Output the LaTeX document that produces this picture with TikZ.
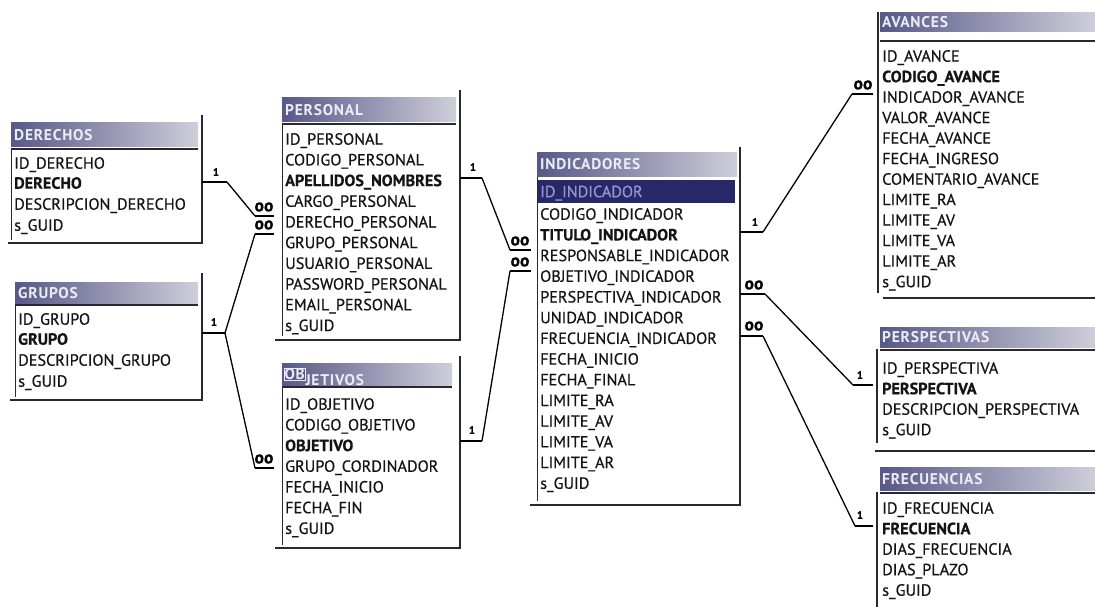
\documentclass[tikz,border=0pt]{standalone}
\usepackage{fontspec}
\setmainfont[FakeBold=0.6]{PT Sans}
\newfontfamily\plainfont[FakeBold=0.6]{PT Sans}
\newfontfamily\hdrfont[LetterSpace=5]{PT Sans}
\definecolor{hdrL}{RGB}{88,88,136}
\definecolor{hdrR}{RGB}{206,206,218}
\definecolor{hdrT}{RGB}{236,236,246}
\definecolor{fieldC}{RGB}{20,20,24}
\definecolor{frameC}{RGB}{40,40,48}
\definecolor{selC}{RGB}{40,40,104}
\definecolor{selT}{RGB}{150,150,205}
\begin{document}
\begin{tikzpicture}[x=1pt,y=-1pt,
  fld/.style={anchor=base west,inner sep=0pt,yshift=-5.7pt,text=fieldC,
    font=\plainfont\fontsize{16.2}{18}\selectfont},
  key/.style={fld,font=\fontsize{16.2}{18}\selectfont\bfseries},
  hdrbar/.style={left color=hdrL,right color=hdrR},
  hdrtxt/.style={anchor=base west,inner sep=0pt,yshift=-5.5pt,text=hdrT,
    font=\hdrfont\bfseries\fontsize{15.5}{17}\selectfont},
  hline/.style={draw=frameC,line width=1.4pt},
  lborder/.style={draw=frameC,line width=1pt},
  frame/.style={draw=frameC,line width=2pt},
  link/.style={draw=black,line width=1.3pt,line join=round},
  bar/.style={draw=black,line width=2.6pt},
  one/.style={font=\fontsize{11}{12}\selectfont\bfseries,inner sep=0pt},
  many/.style={font=\fontsize{17.5}{18}\selectfont\bfseries,inner sep=0pt}
]
\useasboundingbox[fill=white] (0,0) rectangle (1095,607);

% ---------- DERECHOS ----------
\fill[hdrbar] (11,123) rectangle (198,147);
\node[hdrtxt] (derechos) at (14,135) {DERECHOS};
\draw[hline] (11,149) -- (198,149);
\draw[lborder] (11,149) -- (11,240);
\draw[frame] (202,115) -- (202,243) -- (8,243);
\node[fld] (der1) at (14,163) {ID\_DERECHO};
\node[key] (der2) at (14,183) {DERECHO};
\node[fld] (der3) at (14,204) {DESCRIPCION\_DERECHO};
\node[fld] (der4) at (14,225) {s\_GUID};

% ---------- GRUPOS ----------
\fill[hdrbar] (15,282) rectangle (198,303);
\node[hdrtxt] (grupos) at (18,292.5) {GRUPOS};
\draw[hline] (15,305) -- (198,305);
\draw[lborder] (15,305) -- (15,397);
\draw[frame] (202,273) -- (202,400) -- (10,400);
\node[fld] (gru1) at (18,319) {ID\_GRUPO};
\node[key] (gru2) at (18,339) {GRUPO};
\node[fld] (gru3) at (18,360) {DESCRIPCION\_GRUPO};
\node[fld] (gru4) at (18,381) {s\_GUID};

% ---------- PERSONAL ----------
\fill[hdrbar] (282,98) rectangle (456,122);
\node[hdrtxt] (personal) at (285,110) {PERSONAL};
\draw[hline] (282,124) -- (456,124);
\draw[lborder] (282,124) -- (282,336);
\draw[frame] (460,90) -- (460,340) -- (275,340);
\node[fld] (per1) at (285,139) {ID\_PERSONAL};
\node[fld] (per2) at (285,159.7) {CODIGO\_PERSONAL};
\node[key] (per3) at (285,180.4) {APELLIDOS\_NOMBRES};
\node[fld] (per4) at (285,201.1) {CARGO\_PERSONAL};
\node[fld] (per5) at (285,221.8) {DERECHO\_PERSONAL};
\node[fld] (per6) at (285,242.5) {GRUPO\_PERSONAL};
\node[fld] (per7) at (285,263.2) {USUARIO\_PERSONAL};
\node[fld] (per8) at (285,283.9) {PASSWORD\_PERSONAL};
\node[fld] (per9) at (285,304.6) {EMAIL\_PERSONAL};
\node[fld] (per10) at (285,325.3) {s\_GUID};

% ---------- OBJETIVOS ----------
\fill[hdrbar] (282,363) rectangle (452,385);
\node[hdrtxt,draw=hdrT,line width=0.4pt,inner sep=0.3pt,fill=hdrL] (objsel) at (284,374) {OB};
\node[hdrtxt,anchor=base west,yshift=0pt] (objetivos) at (objsel.base east) {JETIVOS};
\draw[hline] (282,387) -- (452,387);
\draw[lborder] (282,387) -- (282,545);
\draw[frame] (460,356) -- (460,548) -- (275,548);
\node[fld] (obj1) at (285,404) {ID\_OBJETIVO};
\node[fld] (obj2) at (285,424.7) {CODIGO\_OBJETIVO};
\node[key] (obj3) at (285,445.4) {OBJETIVO};
\node[fld] (obj4) at (285,466.1) {GRUPO\_CORDINADOR};
\node[fld] (obj5) at (285,486.8) {FECHA\_INICIO};
\node[fld] (obj6) at (285,507.5) {FECHA\_FIN};
\node[fld] (obj7) at (285,528.2) {s\_GUID};

% ---------- INDICADORES ----------
\fill[hdrbar] (537,153) rectangle (737,176);
\node[hdrtxt] (indicadores) at (540,164.5) {INDICADORES};
\fill[selC] (537,180) rectangle (735,203);
\draw[lborder] (537,177) -- (537,501);
\draw[frame] (740,147) -- (740,505) -- (530,505);
\node[fld,text=selT] (ind1) at (540,191.5) {ID\_INDICADOR};
\node[fld] (ind2) at (540,214) {CODIGO\_INDICADOR};
\node[key] (ind3) at (540,234.7) {TITULO\_INDICADOR};
\node[fld] (ind4) at (540,255.4) {RESPONSABLE\_INDICADOR};
\node[fld] (ind5) at (540,276.1) {OBJETIVO\_INDICADOR};
\node[fld] (ind6) at (540,296.8) {PERSPECTIVA\_INDICADOR};
\node[fld] (ind7) at (540,317.5) {UNIDAD\_INDICADOR};
\node[fld] (ind8) at (540,338.2) {FRECUENCIA\_INDICADOR};
\node[fld] (ind9) at (540,358.9) {FECHA\_INICIO};
\node[fld] (ind10) at (540,379.6) {FECHA\_FINAL};
\node[fld] (ind11) at (540,400.3) {LIMITE\_RA};
\node[fld] (ind12) at (540,421) {LIMITE\_AV};
\node[fld] (ind13) at (540,441.7) {LIMITE\_VA};
\node[fld] (ind14) at (540,462.4) {LIMITE\_AR};
\node[fld] (ind15) at (540,483.1) {s\_GUID};

% ---------- AVANCES ----------
\fill[hdrbar] (880,13) rectangle (1095,32);
\node[hdrtxt] (avances) at (882,22.5) {AVANCES};
\draw[hline] (880,41) -- (1095,41);
\draw[frame] (878,12) -- (878,293);
\draw[frame] (883,298) -- (1095,298);
\node[fld] (ava1) at (882,56) {ID\_AVANCE};
\node[key] (ava2) at (882,76.5) {CODIGO\_AVANCE};
\node[fld] (ava3) at (882,97) {INDICADOR\_AVANCE};
\node[fld] (ava4) at (882,117.5) {VALOR\_AVANCE};
\node[fld] (ava5) at (882,138) {FECHA\_AVANCE};
\node[fld] (ava6) at (882,158.5) {FECHA\_INGRESO};
\node[fld] (ava7) at (882,179) {COMENTARIO\_AVANCE};
\node[fld] (ava8) at (882,199.5) {LIMITE\_RA};
\node[fld] (ava9) at (882,220) {LIMITE\_AV};
\node[fld] (ava10) at (882,240.5) {LIMITE\_VA};
\node[fld] (ava11) at (882,261) {LIMITE\_AR};
\node[fld] (ava12) at (882,281.5) {s\_GUID};

% ---------- PERSPECTIVAS ----------
\fill[hdrbar] (880,327) rectangle (1095,347);
\node[hdrtxt] (perspectivas) at (882,337) {PERSPECTIVAS};
\draw[hline] (880,350) -- (1095,350);
\draw[frame] (877,349) -- (877,443);
\draw[frame] (875,451) -- (1095,451);
\node[fld] (psp1) at (882,368) {ID\_PERSPECTIVA};
\node[key] (psp2) at (882,388.5) {PERSPECTIVA};
\node[fld] (psp3) at (882,409) {DESCRIPCION\_PERSPECTIVA};
\node[fld] (psp4) at (882,429.5) {s\_GUID};

% ---------- FRECUENCIAS ----------
\fill[hdrbar] (880,467) rectangle (1095,490);
\node[hdrtxt] (frecuencias) at (882,478.5) {FRECUENCIAS};
\draw[hline] (880,493) -- (1095,493);
\draw[frame] (877,492) -- (877,607);
\node[fld] (fre1) at (882,508) {ID\_FRECUENCIA};
\node[key] (fre2) at (882,528.5) {FRECUENCIA};
\node[fld] (fre3) at (882,549) {DIAS\_FRECUENCIA};
\node[fld] (fre4) at (882,569.5) {DIAS\_PLAZO};
\node[fld] (fre5) at (882,590) {s\_GUID};

% ---------- relationship end points ----------
\coordinate (r1a) at (202,182);  \coordinate (r1b) at (227,182);
\coordinate (r1c) at (255,216);  \coordinate (r1d) at (274,216);
\coordinate (r2a) at (202,333);  \coordinate (r2b) at (225,333);
\coordinate (r2c) at (255,234);  \coordinate (r2d) at (274,234);
\coordinate (r3c) at (255,468);  \coordinate (r3d) at (274,468);
\coordinate (r4a) at (460,178);  \coordinate (r4b) at (482,178);
\coordinate (r4c) at (510,250);  \coordinate (r4d) at (531,250);
\coordinate (r5a) at (460,441);  \coordinate (r5b) at (482,441);
\coordinate (r5c) at (510,271);  \coordinate (r5d) at (531,271);
\coordinate (r6a) at (740,232);  \coordinate (r6b) at (763,232);
\coordinate (r6c) at (852,94);   \coordinate (r6d) at (873,94);
\coordinate (r7a) at (740,294);  \coordinate (r7b) at (765,294);
\coordinate (r7c) at (853,385);  \coordinate (r7d) at (873,385);
\coordinate (r8a) at (740,336);  \coordinate (r8b) at (763,336);
\coordinate (r8c) at (855,526);  \coordinate (r8d) at (873,526);

% DERECHOS 1 -- oo PERSONAL
\draw[bar] (r1a) -- (r1b);
\draw[link] (r1b) -- (r1c);
\draw[bar] (r1c) -- (r1d);
\node[one] (l1a) at (216,172) {1};
\node[many] (l1b) at (264,207) {oo};

% GRUPOS 1 -- oo PERSONAL
\draw[bar] (r2a) -- (r2b);
\draw[link] (r2b) -- (r2c);
\draw[bar] (r2c) -- (r2d);
\node[one] (l2a) at (214,322) {1};
\node[many] (l2b) at (264,225) {oo};

% GRUPOS 1 -- oo OBJETIVOS
\draw[link] (r2b) -- (r3c);
\draw[bar] (r3c) -- (r3d);
\node[many] (l3b) at (264,459) {oo};

% PERSONAL 1 -- oo INDICADORES
\draw[bar] (r4a) -- (r4b);
\draw[link] (r4b) -- (r4c);
\draw[bar] (r4c) -- (r4d);
\node[one] (l4a) at (473,167) {1};
\node[many] (l4b) at (520,241) {oo};

% OBJETIVOS 1 -- oo INDICADORES
\draw[bar] (r5a) -- (r5b);
\draw[link] (r5b) -- (r5c);
\draw[bar] (r5c) -- (r5d);
\node[one] (l5a) at (472,430) {1};
\node[many] (l5b) at (520,262) {oo};

% INDICADORES 1 -- oo AVANCES
\draw[bar] (r6a) -- (r6b);
\draw[link] (r6b) -- (r6c);
\draw[bar] (r6c) -- (r6d);
\node[one] (l6a) at (755,222) {1};
\node[many] (l6b) at (863,85) {oo};

% PERSPECTIVAS 1 -- oo INDICADORES
\draw[bar] (r7a) -- (r7b);
\draw[link] (r7b) -- (r7c);
\draw[bar] (r7c) -- (r7d);
\node[many] (l7a) at (754,285) {oo};
\node[one] (l7b) at (860,375) {1};

% FRECUENCIAS 1 -- oo INDICADORES
\draw[bar] (r8a) -- (r8b);
\draw[link] (r8b) -- (r8c);
\draw[bar] (r8c) -- (r8d);
\node[many] (l8a) at (754,326) {oo};
\node[one] (l8b) at (860,515) {1};
\end{tikzpicture}
\end{document}
